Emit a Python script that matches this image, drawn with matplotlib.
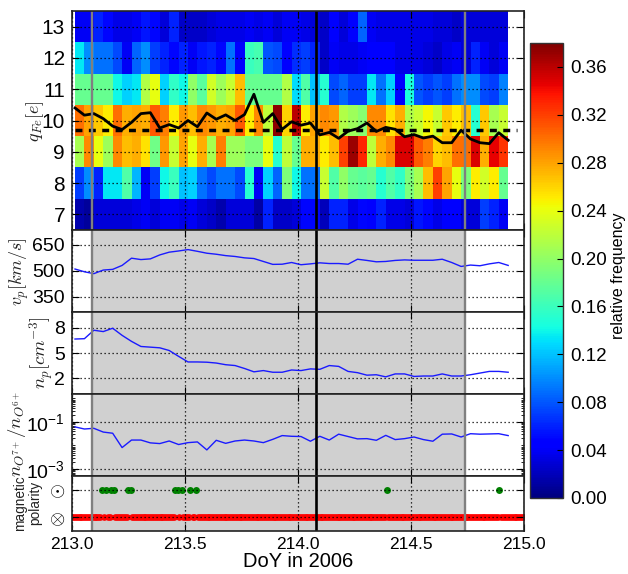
import numpy as np
import matplotlib
matplotlib.use('Agg')
import matplotlib.pyplot as plt
from matplotlib.ticker import NullFormatter, FixedLocator

plt.rcParams['font.family'] = ['Liberation Sans', 'DejaVu Sans']
plt.rcParams['mathtext.fontset'] = 'cm'

W, H = 628, 574
start = 213.0133
step = 1 / 24
row13 = [.04,.04,.06,.05,.035,.035,.04,.055,.05,.03,.06,.025,.025,.025,.03,.035,.035,.035,.04,.035,.04,.03,.04,.04,
         .035,.03,.025,.045,.03,.045,.085,.04,.035,.035,.035,.035,.035,.035,.03,.03,.025,.03,.03,.03,.03,.03]
row12 = [.135,.10,.09,.09,.075,.04,.085,.10,.07,.06,.05,.06,.04,.055,.06,.05,.09,.045,.16,.165,.08,.075,.045,.065,
         .07,.06,.025,.04,.035,.035,.04,.045,.045,.045,.035,.035,.035,.03,.025,.035,.04,.03,.06,.04,.03,.04]
row11 = [.18,.18,.18,.18,.14,.125,.135,.215,.24,.125,.155,.14,.2,.175,.23,.205,.225,.27,.18,.18,.18,.18,.215,.13,
         .17,.12,.15,.075,.085,.07,.07,.135,.09,.125,.045,.145,.08,.07,.08,.07,.09,.10,.10,.075,.07,.095]
row10 = [.30,.28,.265,.25,.30,.275,.28,.275,.31,.295,.25,.285,.27,.29,.285,.275,.28,.31,.25,.29,.22,.375,.26,.36,
         .25,.28,.29,.285,.215,.205,.195,.29,.29,.255,.275,.215,.225,.245,.225,.265,.25,.27,.15,.265,.21,.225]
row9 = [.21,.29,.24,.205,.29,.27,.275,.255,.185,.285,.225,.28,.24,.275,.21,.295,.205,.205,.19,.19,.24,.15,.22,.18,
        .275,.275,.25,.27,.32,.37,.33,.22,.275,.29,.35,.35,.31,.295,.26,.27,.30,.30,.35,.275,.345,.325]
row8 = [.07,.10,.06,.135,.135,.17,.115,.04,.07,.14,.16,.12,.125,.09,.075,.09,.09,.075,.15,.04,.125,.085,.19,.14,
        .09,.09,.225,.17,.2,.18,.175,.18,.15,.17,.155,.19,.21,.27,.32,.28,.24,.19,.25,.23,.25,.18]
row7 = [.015,.01,.03,.03,.03,.03,.035,.04,.03,.04,.04,.035,.04,.03,.025,.015,.03,.03,.03,.012,.06,.025,.025,.03,
        .05,.05,.02,.06,.06,.035,.05,.045,.06,.035,.035,.03,.055,.05,.035,.045,.045,.03,.03,.07,.06,.04]
q_fe = [10.40,10.17,10.22,10.06,9.82,9.71,9.94,10.22,10.25,9.76,9.87,9.76,10.0,9.8,10.24,10.04,10.18,10.0,10.19,10.84,
        9.94,10.22,9.72,9.96,9.85,9.92,9.54,9.62,9.43,9.66,9.74,9.92,9.65,9.78,9.72,9.48,9.55,9.44,9.5,9.29,9.29,9.69,
        9.41,9.29,9.26,9.61,9.37]
q_mean = 9.71
v_p = [510,494,483,504,508,531,573,565,569,592,608,615,623,613,602,596,588,583,575,571,554,537,538,548,535,540,546,
       542,542,538,567,560,552,554,560,563,561,561,561,567,548,525,533,529,540,548,531]
n_p = [6.67,6.71,7.72,7.56,7.96,7.11,6.39,5.78,5.7,5.62,5.3,4.6,3.93,3.93,3.9,3.8,3.6,3.5,3.15,2.75,2.9,2.7,2.7,2.97,
       2.9,3.1,3.05,3.5,3.4,2.8,2.65,2.35,2.4,2.15,2.5,2.5,2.2,2.25,2.25,2.5,2.25,2.25,2.4,2.6,2.8,2.8,2.7]
log_o_ratio = [-1.21,-1.30,-1.27,-1.43,-1.48,-2.09,-1.77,-1.77,-1.89,-1.92,-1.81,-1.96,-1.88,-1.85,-2.19,-1.78,-1.91,
               -1.81,-1.77,-1.81,-1.88,-1.74,-1.58,-1.61,-1.62,-1.82,-1.61,-1.77,-1.52,-1.62,-1.72,-1.71,-1.78,-1.57,
               -1.75,-1.71,-1.64,-1.75,-1.82,-1.52,-1.51,-1.64,-1.50,-1.52,-1.51,-1.50,-1.58]
green_doy = [213.131,213.149,213.171,213.186,213.249,213.260,213.456,213.470,213.485,213.523,213.549,214.392,214.890]
stream_start, stream_end = 213.088, 214.739
shock_doy = 214.078

heat = np.array([row7, row8, row9, row10, row11, row12, row13])
x_edges = start + step * np.arange(heat.shape[1] + 1)
y_edges = np.arange(6.5, 14.0, 1.0)
t = x_edges
red_doy = np.array([d for d in np.arange(213.0, 215.01, 1 / 120)
                    if min(abs(d - g) for g in green_doy) > 0.004])


def axpx(l, t_, r, b):
    return fig.add_axes([l / W, 1 - b / H, (r - l) / W, (b - t_) / H])


fig = plt.figure(figsize=(W / 100, H / 100), dpi=100)
L, R = 72, 524
axs = [axpx(L, 11, R, 230), axpx(L, 230, R, 312), axpx(L, 312, R, 394), axpx(L, 394, R, 476), axpx(L, 476, R, 531)]

mesh = axs[0].pcolormesh(x_edges, y_edges, heat, cmap='jet', vmin=0, vmax=0.38, rasterized=True, zorder=1)
axs[0].plot(t, q_fe, color='k', lw=2.0, zorder=4)
axs[0].plot([t[0], 214.97], [q_mean, q_mean], color='k', lw=2.5, dashes=(2.0, 1.85), zorder=4)
axs[0].set_ylim(6.5, 13.5)
axs[0].set_yticks(range(7, 14))

axs[1].plot(t, v_p, color='#1a1aff', lw=1.0, zorder=3)
axs[1].set_ylim(260, 737)
axs[1].set_yticks([350, 500, 650])

axs[2].plot(t, n_p, color='#1a1aff', lw=1.0, zorder=3)
axs[2].set_ylim(0.1, 9.9)
axs[2].set_yticks([2, 5, 8])

axs[3].plot(t, 10.0 ** np.array(log_o_ratio), color='#1a1aff', lw=1.0, zorder=3)
axs[3].set_yscale('log')
axs[3].set_ylim(10 ** -3.3, 10 ** 0.19)
axs[3].set_yticks([1e-3, 1e-1])
axs[3].set_yticklabels([r'$\mathdefault{10^{-3}}$', r'$\mathdefault{10^{-1}}$'])
minor = [m * 10.0 ** e for e in (-4, -3, -2, -1, 0) for m in range(1, 10)]
minor = [m for m in minor if m not in (1e-3, 1e-1)]
axs[3].yaxis.set_minor_locator(FixedLocator(minor))
axs[3].yaxis.set_minor_formatter(NullFormatter())

axs[4].plot(red_doy, -np.ones_like(red_doy), 'o', color='#ff0000', ms=4.8, mew=0, zorder=2)
axs[4].plot(green_doy, np.ones(len(green_doy)), 'o', color='#008000', ms=5.0, mew=0, zorder=2)
axs[4].set_ylim(-2, 2)
axs[4].set_yticks([-1, 1])
axs[4].set_yticklabels([r'$\otimes$', r'$\odot$'], fontsize=21)

for i, ax in enumerate(axs):
    ax.set_xlim(213, 215)
    ax.set_xticks([213, 213.5, 214, 214.5, 215])
    ax.set_axisbelow(False)
    ax.grid(True, which='major', color='k', linestyle=(0, (1, 2.2)), lw=0.9, zorder=5)
    ax.tick_params(which='major', direction='in', top=True, right=True, length=5, width=0.8,
                   labelsize=15 if i == 0 else 14, pad=5, zorder=6)
    ax.tick_params(which='minor', direction='in', left=True, right=True, length=2.5, width=0.6)
    for s in ax.spines.values():
        s.set_linewidth(1.2)
        s.set_color('#222222')
        s.set_zorder(7)
    if i:
        ax.axvspan(stream_start, stream_end, color='#d0d0d0', lw=0, zorder=0)
    ax.axvline(stream_start, color='#808080', lw=1.7, zorder=4.5)
    ax.axvline(stream_end, color='#808080', lw=1.7, zorder=4.5)
    ax.axvline(shock_doy, color='k', lw=1.9, zorder=4.5)
    if i < 4:
        ax.tick_params(axis='x', labelbottom=False)
axs[4].set_xticklabels(['213.0', '213.5', '214.0', '214.5', '215.0'], fontsize=12.5)
axs[4].tick_params(axis='x', pad=4)
axs[4].set_xlabel('DoY in 2006', fontsize=14.5, labelpad=0)


def ylab(x, y, s, size=16):
    fig.text(x / W, 1 - y / H, s, rotation=90, ha='center', va='center', fontsize=size, color='#222222')


ylab(35, 121, r'$q_{Fe}[e]$', 13)
ylab(19, 272, r'$v_p[km/s]$', 13)
ylab(41, 353, r'$n_p[cm^{-3}]$', 13.5)
ylab(17, 434, r'$n_{O^{7+}}/n_{O^{6+}}$', 13.5)
ylab(20, 503, 'magnetic', 9.8)
ylab(35, 503, 'polarity', 9.8)

cax = axpx(530, 43, 563, 498)
cb = fig.colorbar(mesh, cax=cax, ticks=np.arange(0, 0.37, 0.04))
cb.ax.set_yticklabels(['%.2f' % v for v in np.arange(0, 0.37, 0.04)])
cb.ax.tick_params(direction='in', length=4, width=0.8, labelsize=13.5, pad=5)
cb.outline.set_linewidth(1.0)
cb.outline.set_edgecolor('#333333')
fig.text(618 / W, 1 - 276 / H, 'relative frequency', rotation=90, ha='center', va='center', fontsize=11.5)

fig.savefig('out.png', dpi=100)
